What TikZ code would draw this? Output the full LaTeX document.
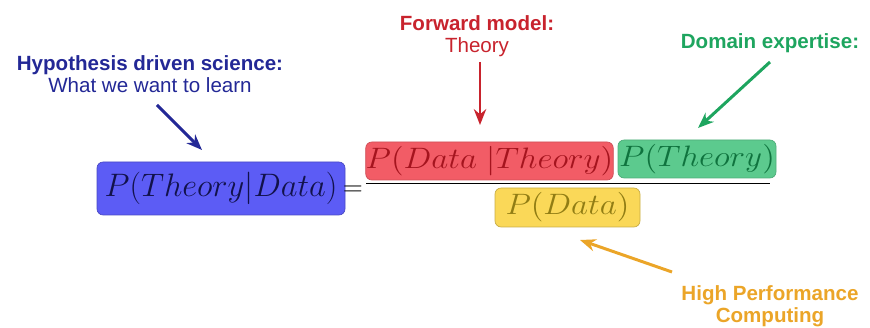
\RequirePackage{fix-cm}
\documentclass[tikz,border=0pt]{standalone}
\usepackage{fontspec}
\setmainfont{Liberation Sans}
\usepackage{graphicx}
\usepackage{tikz}
\usetikzlibrary{arrows.meta,positioning}
\definecolor{cHyp}{RGB}{35,40,150}
\definecolor{cFwd}{RGB}{200,35,45}
\definecolor{cDom}{RGB}{30,165,95}
\definecolor{cHpc}{RGB}{235,165,40}
\definecolor{cBlueBox}{RGB}{92,92,245}
\definecolor{cBlueTxt}{RGB}{18,18,75}
\definecolor{cRedBox}{RGB}{242,92,102}
\definecolor{cRedTxt}{RGB}{165,20,30}
\definecolor{cGreenBox}{RGB}{92,202,142}
\definecolor{cGreenTxt}{RGB}{15,115,62}
\definecolor{cYellowBox}{RGB}{250,216,88}
\definecolor{cYellowTxt}{RGB}{145,125,20}
\newcommand{\wideterm}[1]{\scalebox{1.12}[1]{$#1$}}
\tikzset{
  termbox/.style={rectangle,rounded corners=3.5pt,inner sep=0pt,
                  align=center},
  bluebox/.style={termbox,fill=cBlueBox,draw=cBlueBox!80!black,
                  text=cBlueTxt,minimum width=4.96cm,minimum height=1.06cm,
                  font=\fontsize{18.5}{22}\selectfont},
  redbox/.style={termbox,fill=cRedBox,draw=cRedBox!85!black,
                 text=cRedTxt,minimum width=4.94cm,minimum height=0.76cm,
                 font=\fontsize{16.8}{19}\selectfont},
  greenbox/.style={termbox,fill=cGreenBox,draw=cGreenBox!85!black,
                   text=cGreenTxt,minimum width=3.16cm,minimum height=0.76cm,
                   font=\fontsize{16.8}{19}\selectfont},
  yellowbox/.style={termbox,fill=cYellowBox,draw=cYellowBox!80!black,
                    text=cYellowTxt,minimum width=2.9cm,minimum height=0.78cm,
                    font=\fontsize{16.8}{19}\selectfont},
  note/.style={align=center,font=\fontsize{11.7}{12.5}\selectfont},
  arr/.style={-{Stealth[length=9pt,width=7pt]},line width=1.7pt}
}
\begin{document}
\begin{tikzpicture}
  \useasboundingbox (0,0) rectangle (17.4,6.56);

  % terms of the formula
  \node[bluebox] (post) at (4.42,2.79) {$P(Theory|Data)$};
  \node[font=\fontsize{15}{18}\selectfont] (eq) at (7.06,2.74) {$=$};
  \node[redbox] (like) at (9.79,3.34) {\wideterm{P(Data\ |Theory)}};
  \node[greenbox] (prior) at (13.94,3.38) {\wideterm{P(Theory)}};
  \node[yellowbox] (evid) at (11.35,2.41) {\wideterm{P(Data)}};
  \coordinate (fracL) at (7.32,2.89);
  \coordinate (fracR) at (15.40,2.89);
  \draw[line width=1.1pt] (fracL) -- (fracR);

  % annotations
  \node[note,text=cHyp] (hyp) at (3.0,5.08)
      {\textbf{Hypothesis driven science:}\\What we want to learn};
  \node[note,text=cFwd] (fwd) at (9.54,5.83)
      {\textbf{Forward model:}\\Theory};
  \node[note,text=cDom] (dom) at (15.4,5.70)
      {\textbf{Domain expertise:}};
  \node[note,text=cHpc] (hpc) at (15.4,0.43)
      {\textbf{High Performance}\\\textbf{Computing}};

  \coordinate (hypA) at (3.14,4.46);  \coordinate (hypB) at (4.04,3.56);
  \coordinate (fwdA) at (9.6,5.32);   \coordinate (fwdB) at (9.6,4.06);
  \coordinate (domA) at (15.4,5.32);  \coordinate (domB) at (13.96,4.0);
  \coordinate (hpcA) at (13.44,1.12); \coordinate (hpcB) at (11.6,1.76);

  \draw[arr,color=cHyp] (hypA) -- (hypB);
  \draw[arr,color=cFwd] (fwdA) -- (fwdB);
  \draw[arr,color=cDom] (domA) -- (domB);
  \draw[arr,color=cHpc] (hpcA) -- (hpcB);

\end{tikzpicture}
\end{document}
